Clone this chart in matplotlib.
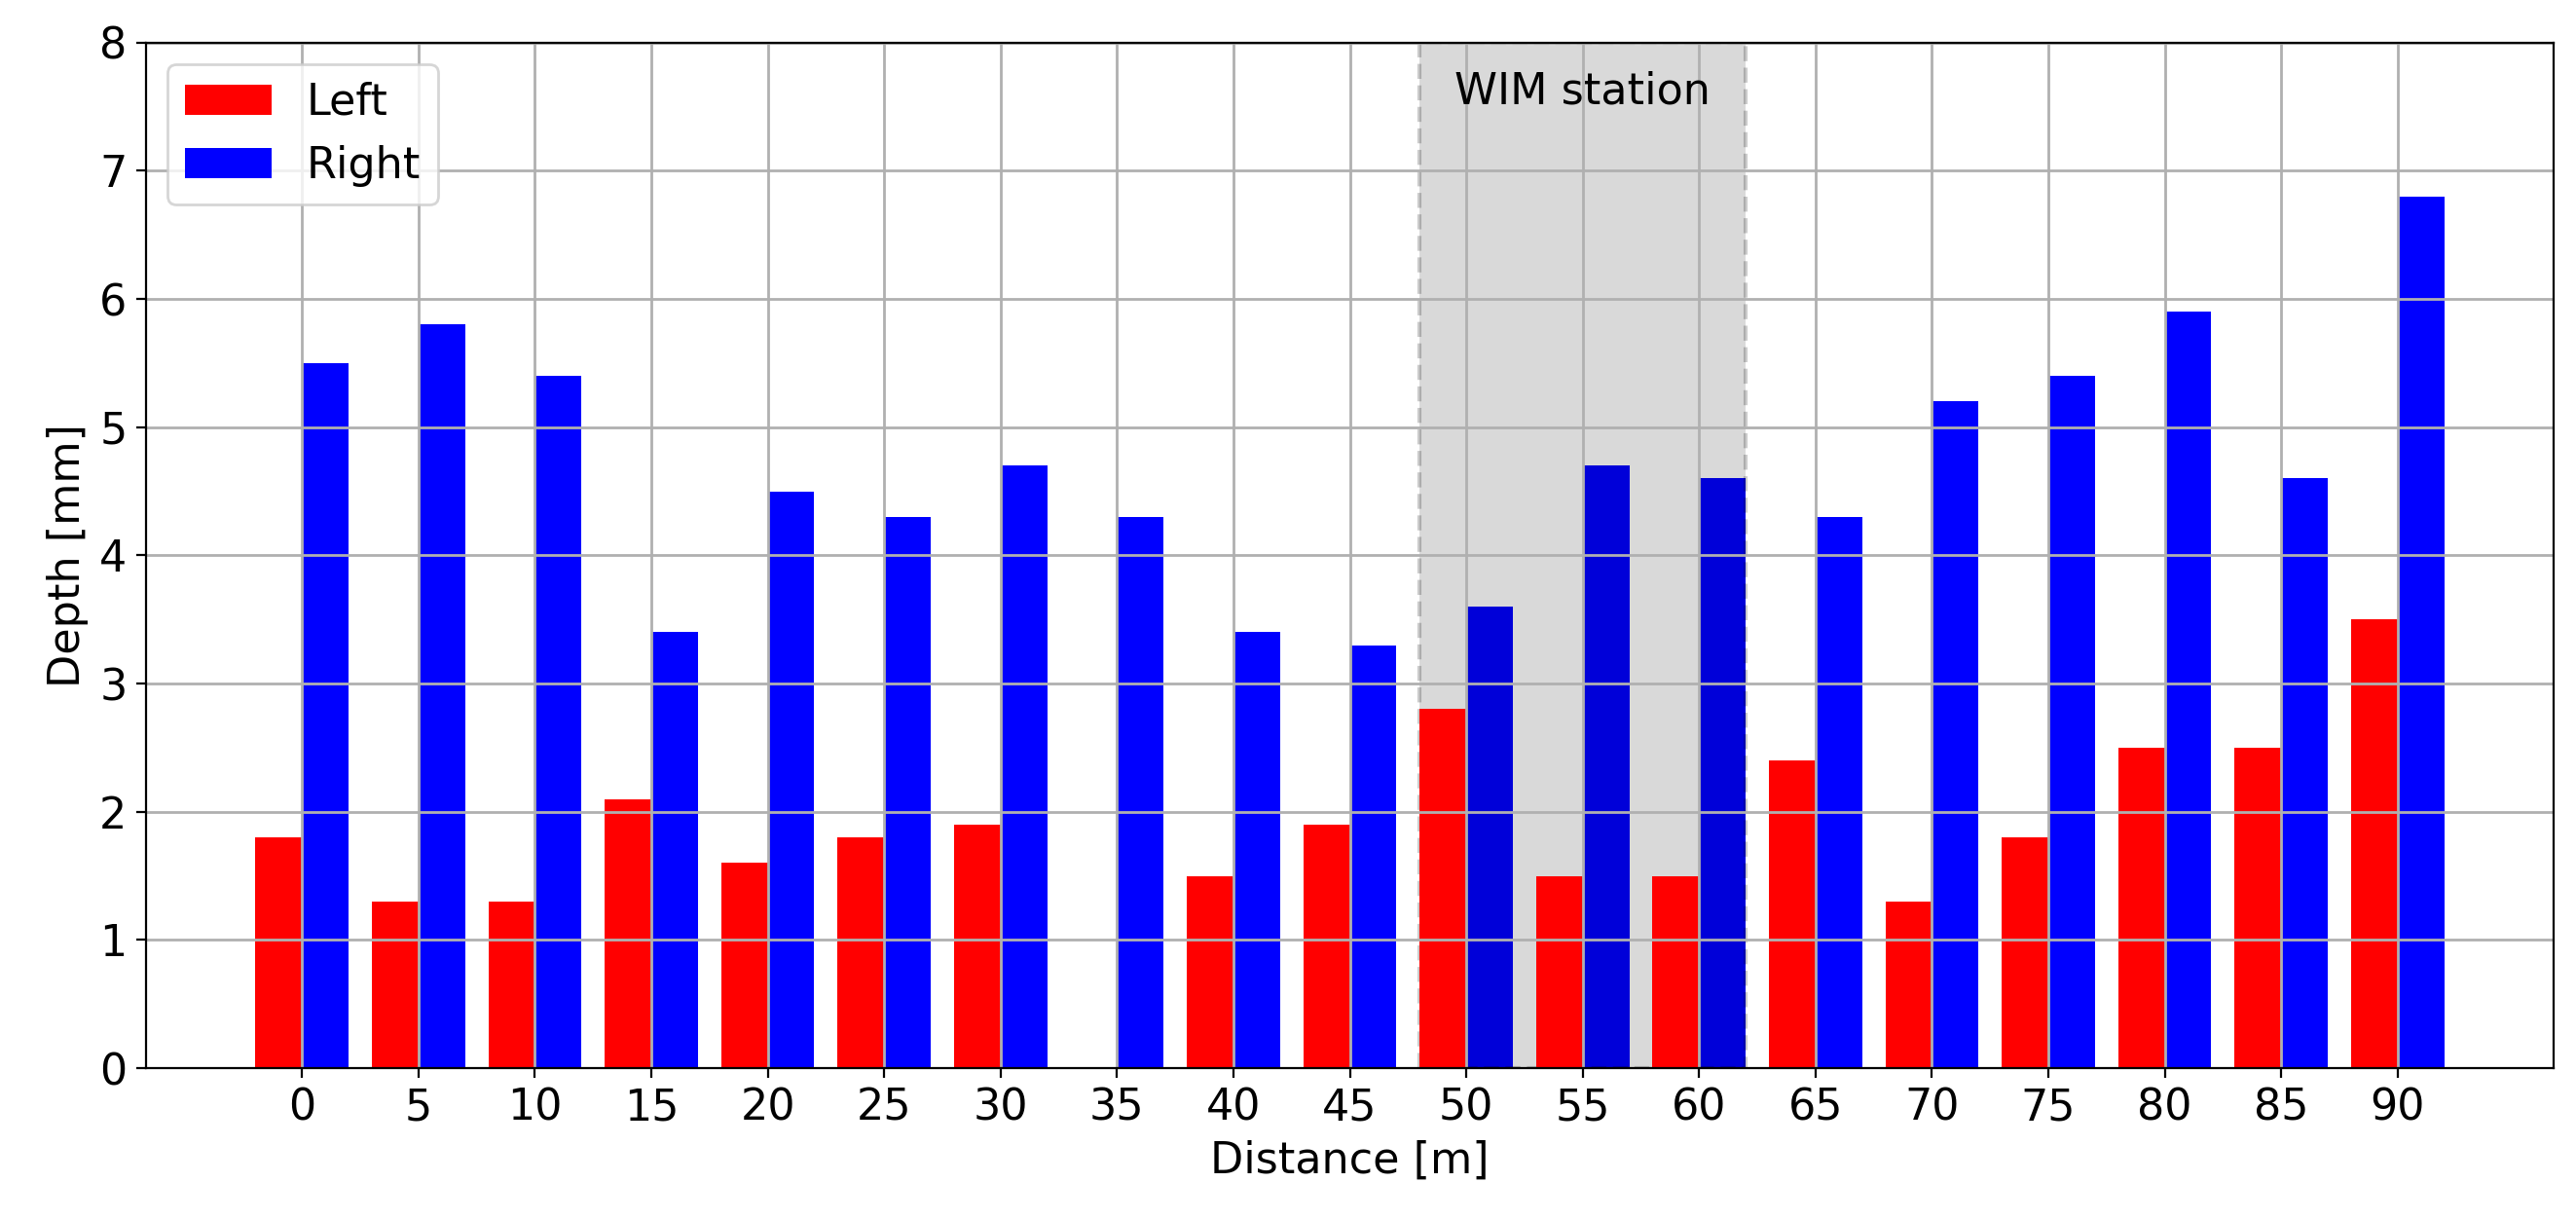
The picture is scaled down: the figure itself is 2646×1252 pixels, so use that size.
import numpy as np
import matplotlib
matplotlib.use("Agg")
from matplotlib import pyplot as plt

distance = [0, 5, 10, 15, 20, 25, 30, 35, 40, 45, 50, 55, 60, 65, 70, 75, 80, 85, 90]
left = [1.8, 1.3, 1.3, 2.1, 1.6, 1.8, 1.9, 0.0, 1.5, 1.9, 2.8, 1.5, 1.5, 2.4, 1.3, 1.8, 2.5, 2.5, 3.5]
right = [5.5, 5.8, 5.4, 3.4, 4.5, 4.3, 4.7, 4.3, 3.4, 3.3, 3.6, 4.7, 4.6, 4.3, 5.2, 5.4, 5.9, 4.6, 6.8]
wim_start, wim_end = 48, 62

plt.rcParams['font.size'] = 16

fig = plt.figure(figsize=(13.23, 6.26), dpi=200)
ax = fig.add_axes([0.0567, 0.1238, 0.9346, 0.8412])

x = np.array(distance)
b_left = ax.bar(x - 1, left, width=2, color='red', label='Left', zorder=1.4)
b_right = ax.bar(x + 1, right, width=2, color='blue', label='Right', zorder=1.0)

# WIM station zone: over the right bars, under the left ones
ax.axvspan(wim_start, wim_end, facecolor=(0, 0, 0, 0.15), edgecolor=(0, 0, 0, 0.2),
           linestyle='--', linewidth=1.5, zorder=1.2)
ax.text((wim_start + wim_end) / 2, 7.62, 'WIM station', ha='center', va='center', fontsize=16)

ax.set_xticks(distance)
ax.set_ylim(0, 8)
ax.grid(True, color='#b0b0b0', linewidth=1.0)
ax.set_xlabel('Distance [m]')
ax.set_ylabel('Depth [mm]')
ax.legend(handles=[b_left, b_right], loc='upper left')

fig.savefig('out.png', dpi=200)
